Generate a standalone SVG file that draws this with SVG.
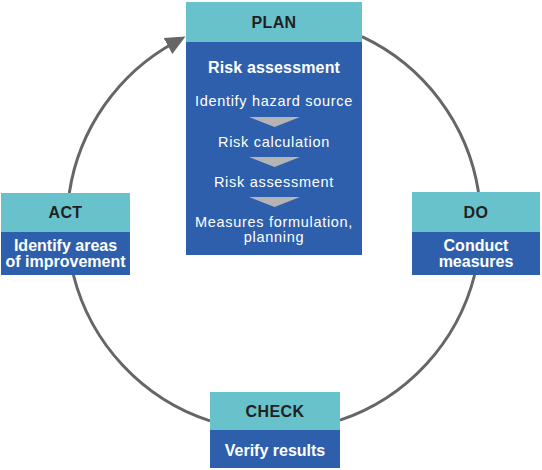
<svg xmlns="http://www.w3.org/2000/svg" width="542" height="470" viewBox="0 0 542 470">
<style>
.hd{fill:#67C2CB}
.bd{fill:#2E5FAC}
.ht{font-family:"Liberation Sans",Arial,sans-serif;font-weight:bold;font-size:16px;fill:#231F20;text-anchor:middle;letter-spacing:0.4px}
.bt{font-family:"Liberation Sans",Arial,sans-serif;font-weight:bold;font-size:16px;fill:#fff;text-anchor:middle}
.rt{font-family:"Liberation Sans",Arial,sans-serif;font-size:14.5px;fill:#fff;text-anchor:middle;letter-spacing:0.7px}
.st{fill:#B5B5B5}
.arc{fill:none;stroke:#666;stroke-width:3}
</style>
<defs>
<marker id="ah" markerUnits="userSpaceOnUse" markerWidth="22" markerHeight="20" viewBox="0 0 22 20" refX="8" refY="10" orient="auto">
<path d="M0,1 L20,10 L0,19 z" fill="#666"/>
</marker>
</defs>
<rect width="542" height="470" fill="#fff"/>
<g id="connectors">
<path class="arc" d="M362,36.6 A207,207 0 0 1 478.5,192"/>
<path class="arc" d="M474.6,275 A207,207 0 0 1 340,420.2"/>
<path class="arc" d="M210,420.9 A207,207 0 0 1 73.4,275"/>
<path class="arc" d="M69.3,193 A207,207 0 0 1 175,42.2" marker-end="url(#ah)"/>
</g>
<g id="plan">
<rect class="hd" x="186" y="2" width="176" height="40"/>
<rect class="bd" x="186" y="42" width="176" height="213"/>
<text class="ht" x="274" y="28">PLAN</text>
<text class="bt" x="274" y="73" style="letter-spacing:0.15px">Risk assessment</text>
<text class="rt" x="274" y="106">Identify hazard source</text>
<polygon class="st" points="249,117 300,117 274.5,127"/>
<text class="rt" x="274" y="147">Risk calculation</text>
<polygon class="st" points="249,157 300,157 274.5,167"/>
<text class="rt" x="274" y="187">Risk assessment</text>
<polygon class="st" points="249,197 300,197 274.5,207"/>
<text class="rt" x="274" y="227">Measures formulation,<tspan x="274" dy="15">planning</tspan></text>
</g>
<g id="do">
<rect class="hd" x="412" y="192" width="128" height="40"/>
<rect class="bd" x="412" y="232" width="128" height="43"/>
<text class="ht" x="476" y="218">DO</text>
<text class="bt" x="476" y="251">Conduct<tspan x="476" dy="16">measures</tspan></text>
</g>
<g id="check">
<rect class="hd" x="210" y="392" width="130" height="38"/>
<rect class="bd" x="210" y="430" width="130" height="38"/>
<text class="ht" x="275" y="417">CHECK</text>
<text class="bt" x="275" y="456">Verify results</text>
</g>
<g id="act">
<rect class="hd" x="1" y="193" width="129" height="39"/>
<rect class="bd" x="1" y="232" width="129" height="43"/>
<text class="ht" x="65.5" y="218">ACT</text>
<text class="bt" x="65.5" y="251">Identify areas<tspan x="65.5" dy="16">of improvement</tspan></text>
</g>
</svg>
